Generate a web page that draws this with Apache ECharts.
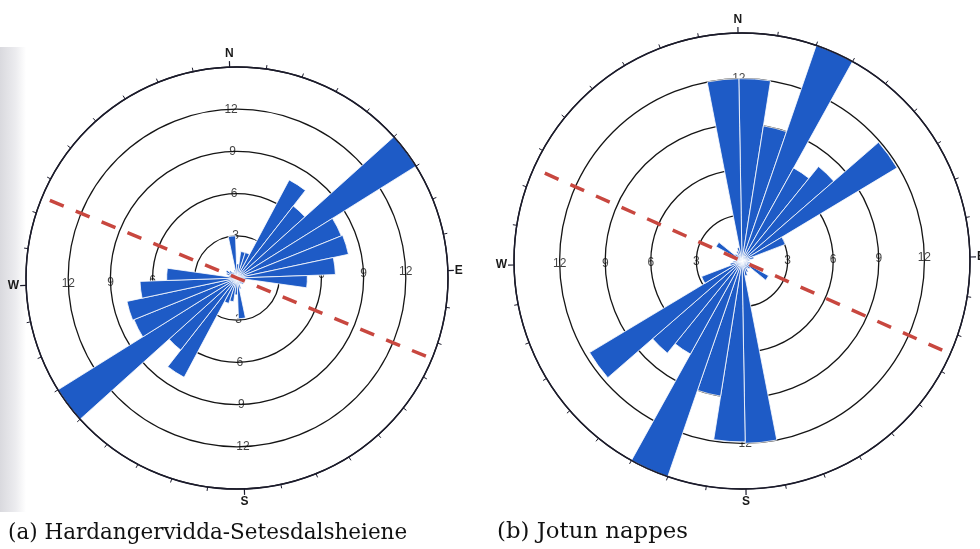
<!DOCTYPE html>
<html>
<head>
<meta charset="utf-8">
<title>Rose diagrams</title>
<script src="https://cdn.jsdelivr.net/npm/echarts@6/dist/echarts.min.js"></script>
<style>
  html, body { margin: 0; padding: 0; background: #ffffff; }
  #chart { width: 980px; height: 549px; }
</style>
</head>
<body>
<div id="chart"></div>
<script>
// 10-degree azimuth bins, clockwise from north
const dirBins = [];
for (let a = 0; a < 360; a += 10) dirBins.push(String(a));

// Frequencies per bin, (a) Hardangervidda-Setesdalsheiene
const hsValues = [
  1.0, 1.9, 1.9, 7.9, 6.5, 15.0, 8.0, 8.1, 7.0, 5.0,
  0.6, 0.5, 0.5, 0.6, 0.5, 0.4, 0.8, 2.9,
  1.2, 1.7, 1.9, 8.0, 6.5, 15.0, 7.9, 8.0, 6.9, 5.0,
  0.6, 0.8, 0.9, 0.7, 0.5, 0.4, 0.6, 3.0
];

// Frequencies per bin, (b) Jotun nappes
const jotunValues = [
  12.0, 9.0, 15.0, 7.0, 8.0, 11.9, 3.05, 0.8, 0.5, 0.4,
  0.6, 0.5, 2.0, 0.7, 0.6, 0.8, 1.0, 12.0,
  11.9, 9.0, 15.0, 7.0, 7.8, 11.7, 2.85, 0.8, 0.6, 0.4,
  0.5, 0.7, 1.95, 0.6, 0.5, 0.7, 0.9, 12.0
];

// Radial scale
const ringTicks = [3, 6, 9, 12];
const radiusMax = 15;
const compassAngles = [0, 90, 180, 270];
const compassNames = ['N', 'E', 'S', 'W'];

// Dashed trend line: azimuth of its NW end and reach of each end
const trendAzimuth = [294.5, 295.0];
const trendReachNW = [14.4, 14.2];
const trendReachSE = [14.7, 14.6];

const captions = ['(a) Hardangervidda-Setesdalsheiene', '(b) Jotun nappes'];

const panels = [
  { center: [237, 278], radius: 211, start: 92, values: hsValues },
  { center: [742, 261], radius: 228, start: 91, values: jotunValues }
];

const BAR_BLUE = '#1e5bc6';
const RING = '#151515';
const FRAME = '#1b1b2c';
const TREND = '#c8473f';

const polar = [], angleAxis = [], radiusAxis = [], series = [];

panels.forEach((p, i) => {
  const barPolar = i * 2, framePolar = i * 2 + 1;
  polar.push({ center: p.center, radius: p.radius });
  polar.push({ center: p.center, radius: p.radius });

  // category angle axis carrying the petals
  angleAxis.push({
    polarIndex: barPolar, type: 'category', data: dirBins,
    startAngle: p.start, clockwise: true, boundaryGap: true,
    axisLine: { show: false }, axisTick: { show: false },
    axisLabel: { show: false }, splitLine: { show: false }
  });
  radiusAxis.push({
    polarIndex: barPolar, type: 'value', min: 0, max: radiusMax, interval: 3,
    axisLine: { show: false }, axisTick: { show: false }, axisLabel: { show: false },
    splitLine: { show: true, lineStyle: { color: RING, width: 1.3 } }
  });

  // value angle axis: outer circle, 10-degree ticks, compass letters
  angleAxis.push({
    polarIndex: framePolar, type: 'value', min: 0, max: 360, interval: 90,
    startAngle: p.start, clockwise: true, z: 5,
    axisLine: { show: true, lineStyle: { color: FRAME, width: 1.5 } },
    axisTick: { show: true, inside: false, length: 6, lineStyle: { color: FRAME, width: 1.2 } },
    minorTick: { show: true, splitNumber: 9, length: 4, lineStyle: { color: FRAME, width: 1 } },
    splitLine: { show: false }, minorSplitLine: { show: false },
    axisLabel: {
      margin: 7, color: '#1a1a1a', fontFamily: 'Liberation Sans', fontSize: 12, fontWeight: 'bold',
      formatter: v => { const k = compassAngles.indexOf(v); return k >= 0 && v !== 360 ? compassNames[k] : ''; }
    }
  });
  radiusAxis.push({
    polarIndex: framePolar, type: 'value', min: 0, max: radiusMax, show: false
  });

  // ring values, printed on each ring along the four compass directions
  const ringData = [];
  compassAngles.forEach(a => ringTicks.forEach(r => ringData.push([r, a])));
  series.push({
    type: 'scatter', coordinateSystem: 'polar', polarIndex: framePolar,
    data: ringData, symbolSize: 0, silent: true, z: 1,
    label: {
      show: true, position: 'inside', color: '#111',
      fontFamily: 'Liberation Sans', fontSize: 12,
      formatter: prm => String(prm.value[0])
    }
  });

  // petals
  series.push({
    type: 'bar', coordinateSystem: 'polar', polarIndex: barPolar,
    data: p.values, barCategoryGap: '0%', z: 2, silent: true,
    itemStyle: { color: BAR_BLUE, borderColor: '#ffffff', borderWidth: 0.8 }
  });

  // dashed trend line through the centre
  series.push({
    type: 'line', coordinateSystem: 'polar', polarIndex: framePolar,
    data: [[trendReachNW[i], trendAzimuth[i]], [0, 0], [trendReachSE[i], trendAzimuth[i] - 180]],
    symbol: 'none', silent: true, z: 4,
    lineStyle: { color: TREND, width: 3.5, type: [15, 13] }
  });
});

const chart = echarts.init(document.getElementById('chart'), null, { renderer: 'canvas' });
chart.setOption({
  animation: false,
  backgroundColor: '#ffffff',
  polar, angleAxis, radiusAxis, series,
  graphic: [
    {
      type: 'rect', z: -1, silent: true,
      shape: { x: 0, y: 47, width: 26, height: 465 },
      style: {
        fill: new echarts.graphic.LinearGradient(0, 0, 1, 0, [
          { offset: 0, color: '#d9d9de' }, { offset: 0.6, color: '#ececef' }, { offset: 1, color: '#ffffff' }
        ])
      }
    },
    {
      type: 'text', left: 8, top: 522, silent: true,
      style: { text: captions[0], font: '21.5px "DejaVu Serif"', fill: '#111' }
    },
    {
      type: 'text', left: 497, top: 521, silent: true,
      style: { text: captions[1], font: '22.8px "DejaVu Serif"', fill: '#111' }
    }
  ]
});
</script>
</body>
</html>
